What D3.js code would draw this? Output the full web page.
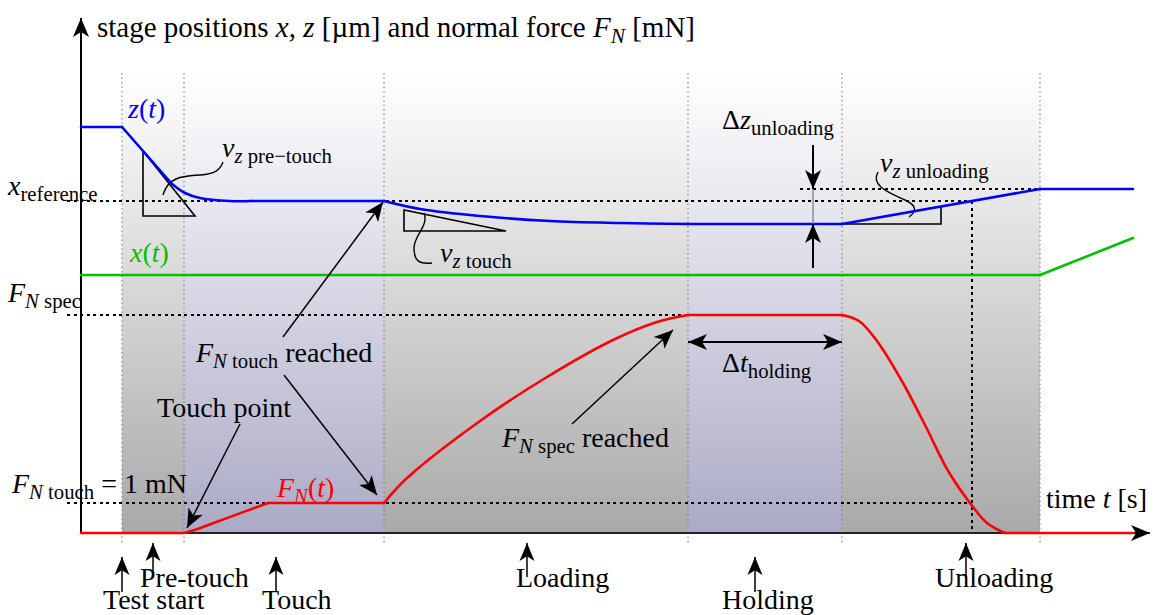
<!DOCTYPE html>
<html>
<head>
<meta charset="utf-8">
<script src="https://cdn.jsdelivr.net/npm/d3@7"></script>
<style>
  body { margin: 0; background: #fff; }
  svg { display: block; font-family: "Liberation Serif", "DejaVu Serif", serif; }
</style>
</head>
<body>
<script>
// time axis runs 0..107 (arbitrary s), value axis 0..51.5 (arbitrary units)
var phaseBounds = [4.1, 10.3, 30.3, 60.7, 76.1, 95.9];
var phaseShade = ["gray", "blue", "gray", "blue", "gray"];

// phase marker labels under the time axis
var phaseLabels = ["Test start", "Pre-touch", "Touch", "Loading", "Holding", "Unloading"];
var phaseLabelT = [4.1, 7.2, 19.5, 44.6, 67.4, 88.5];
var phaseLabelLow = [true, false, true, false, true, false];

// curves, split in pieces: 2-point pieces are straight, longer ones smooth
var zPieces = [
  [[0, 40.6], [4.1, 40.6]],
  [[4.1, 40.6], [9.1, 34.9]],
  [[9.1, 34.9], [10.4, 34.0], [11.9, 33.5], [14.9, 33.2], [17.0, 33.2]],
  [[17.0, 33.2], [30.3, 33.2]],
  [[30.3, 33.2], [33.9, 32.4], [39.9, 31.7], [46.9, 31.2], [53.9, 31.0], [60.7, 30.9]],
  [[60.7, 30.9], [76.1, 30.9]],
  [[76.1, 30.9], [95.9, 34.4]],
  [[95.9, 34.4], [105.2, 34.4]]
];
var xPieces = [
  [[0, 25.8], [95.9, 25.8]],
  [[95.9, 25.8], [105.2, 29.5]]
];
var fPieces = [
  [[0, 0], [10.3, 0]],
  [[10.3, 0], [11.5, 0.35], [13.0, 0.9], [18.7, 3.0]],
  [[18.7, 3.0], [30.3, 3.0]],
  [[30.3, 3.0], [32.5, 5.4], [39.9, 11.2], [46.6, 15.6], [53.2, 19.3], [57.6, 21.1], [60.7, 21.8]],
  [[60.7, 21.8], [76.1, 21.8]],
  [[76.1, 21.8], [77.8, 21.2], [79.6, 19.2], [82.2, 15.0], [84.5, 10.6], [86.6, 6.4], [88.6, 3.4], [90.6, 1.0], [92.4, 0]],
  [[92.4, 0], [105.2, 0]]
];

// reference levels
var xRef = 33.2, zUnload = 34.4, fSpec = 21.8, fTouch = 3.0, tCross = 89.1;

var W = 1154, H = 615;
var svg = d3.select("body").append("svg").attr("width", W).attr("height", H);

var tS = d3.scaleLinear().domain([0, 107]).range([81, 1151]);
var vS = d3.scaleLinear().domain([0, 51.5]).range([533, 18]);
var shadeTop = 75;

var defs = svg.append("defs");
function grad(id, bottom) {
  var g = defs.append("linearGradient").attr("id", id)
    .attr("gradientUnits", "userSpaceOnUse")
    .attr("x1", 0).attr("x2", 0).attr("y1", shadeTop).attr("y2", vS(0));
  g.append("stop").attr("offset", 0).attr("stop-color", "#ffffff");
  g.append("stop").attr("offset", 1).attr("stop-color", bottom);
}
grad("gGray", "#a9a9a9");
grad("gBlue", "#abaac6");

function marker(id, len, wid) {
  defs.append("marker").attr("id", id)
    .attr("markerUnits", "userSpaceOnUse")
    .attr("viewBox", (-len - 1) + " " + (-wid - 1) + " " + (len + 2) + " " + (2 * wid + 2))
    .attr("refX", 0).attr("refY", 0)
    .attr("markerWidth", len + 2).attr("markerHeight", 2 * wid + 2)
    .attr("orient", "auto")
    .append("path")
    .attr("d", "M0,0 L" + (-len) + "," + (-wid) + " L" + (-len * 0.74) + ",0 L" + (-len) + "," + wid + " Z")
    .attr("fill", "#000");
}
marker("arr", 19, 8);
marker("arrS", 18, 7.5);

// phase shading
for (var i = 0; i < phaseShade.length; i++) {
  svg.append("rect")
    .attr("x", tS(phaseBounds[i])).attr("y", shadeTop)
    .attr("width", tS(phaseBounds[i + 1]) - tS(phaseBounds[i]))
    .attr("height", vS(0) - shadeTop)
    .attr("fill", phaseShade[i] == "gray" ? "url(#gGray)" : "url(#gBlue)");
}
// phase boundary dotted lines
svg.selectAll(".pb").data(phaseBounds).enter().append("line")
  .attr("x1", function(d) { return tS(d); }).attr("x2", function(d) { return tS(d); })
  .attr("y1", shadeTop - 2).attr("y2", vS(0) + 11)
  .attr("stroke", "#777").attr("stroke-width", 1).attr("stroke-dasharray", "1.5,3");

// dashed reference lines
function dash(t1, v1, t2, v2) {
  svg.append("line")
    .attr("x1", tS(t1)).attr("y1", vS(v1)).attr("x2", tS(t2)).attr("y2", vS(v2))
    .attr("stroke", "#000").attr("stroke-width", 1.3).attr("stroke-dasharray", "3,3.5")
    .attr("shape-rendering", "crispEdges");
}
dash(-1.4, xRef, tCross, xRef);
dash(71.9, zUnload, 95.9, zUnload);
dash(-1.4, fSpec, 60.7, fSpec);
dash(-1.4, fTouch, tCross, fTouch);
dash(tCross, xRef, tCross, 0);

// slope triangles
var lineGen = d3.line().x(function(d) { return tS(d[0]); }).y(function(d) { return vS(d[1]); });
function poly(pts, closed) {
  svg.append("path").attr("d", lineGen(pts) + (closed ? "Z" : ""))
    .attr("fill", "none").attr("stroke", "#000").attr("stroke-width", 1.6);
}
poly([[6.2, 38.2], [6.2, 31.7], [11.4, 31.7]], true);
poly([[32.3, 32.3], [32.3, 30.2], [42.5, 30.2]], true);
poly([[76.1, 30.9], [86.0, 30.9], [86.0, 32.6]], false);

// squiggles
function squig(d) {
  svg.append("path").attr("d", d).attr("fill", "none").attr("stroke", "#000").attr("stroke-width", 1.4);
}
squig("M163,195 C168,178 180,176 200,175 C215,174 220,170 223,162");
squig("M424,213 C429,226 414,235 414,248 C414,262 420,264 432,263");
squig("M878,172 C870,186 890,193 905,200 C918,206 916,212 909,217");

// axes
svg.append("line").attr("x1", tS(0)).attr("y1", vS(0)).attr("x2", tS(0)).attr("y2", 18)
  .attr("stroke", "#000").attr("stroke-width", 2).attr("marker-end", "url(#arr)");
svg.append("line").attr("x1", tS(0)).attr("y1", vS(0)).attr("x2", tS(106.9)).attr("y2", vS(0))
  .attr("stroke", "#222").attr("stroke-width", 2).attr("marker-end", "url(#arr)");

// series
var smooth = d3.line().x(function(d) { return tS(d[0]); }).y(function(d) { return vS(d[1]); })
  .curve(d3.curveCatmullRom.alpha(0.5));
function series(pieces, color) {
  svg.append("g").selectAll("path").data(pieces).enter().append("path")
    .attr("d", function(d) { return smooth(d); })
    .attr("fill", "none").attr("stroke", color).attr("stroke-width", 2.6)
    .attr("stroke-linecap", "round").attr("stroke-linejoin", "round");
}
series(xPieces, "#00c000");
series(zPieces, "#0000ff");
series(fPieces, "#ff0000");

// arrows
function arrow(t1, v1, t2, v2, small, w) {
  svg.append("line")
    .attr("x1", tS(t1)).attr("y1", vS(v1)).attr("x2", tS(t2)).attr("y2", vS(v2))
    .attr("stroke", "#000").attr("stroke-width", w || 1.5)
    .attr("marker-end", small ? "url(#arrS)" : "url(#arr)");
}
arrow(20.2, 19.6, 30.2, 33.1);
arrow(20.3, 15.8, 29.6, 3.8);
arrow(15.9, 10.9, 10.6, 0.5);
arrow(49.1, 10.9, 59.2, 20.3);
arrow(68.4, 19.1, 60.7, 19.1, false, 1.8);
arrow(68.4, 19.1, 76.1, 19.1, false, 1.8);
arrow(73.2, 38.8, 73.2, 34.4, false, 2);
arrow(73.2, 26.5, 73.2, 30.9, false, 2);
svg.append("line").attr("x1", tS(73.2)).attr("x2", tS(73.2)).attr("y1", vS(34.4)).attr("y2", vS(30.9))
  .attr("stroke", "#777").attr("stroke-width", 1.2);

// phase labels with up arrows
phaseLabels.forEach(function(name, k) {
  var x = tS(phaseLabelT[k]);
  var low = phaseLabelLow[k];
  svg.append("line").attr("x1", x).attr("x2", x)
    .attr("y1", low ? 592 : 577).attr("y2", low ? 557 : 543)
    .attr("stroke", "#000").attr("stroke-width", 1.5).attr("marker-end", "url(#arrS)");
});
var labelX = [103, 140, 262, 516, 722, 935];
phaseLabels.forEach(function(name, k) {
  svg.append("text").attr("x", labelX[k]).attr("y", phaseLabelLow[k] ? 609 : 587)
    .attr("font-size", 28).text(name);
});

// rich text helper
function rich(x, y, parts, size, color) {
  var el = svg.append("text").attr("x", x).attr("y", y).attr("font-size", size).attr("fill", color || "#000");
  var shifted = 0;
  parts.forEach(function(p) {
    var ts = el.append("tspan").text(p.t);
    var want = p.sub ? Math.round(size * 0.22) : 0;
    ts.attr("dy", want - shifted);
    shifted = want;
    if (p.sub) ts.attr("font-size", size * 0.74);
    if (p.i) ts.attr("font-style", "italic");
  });
  return el;
}

rich(97, 37, [{t: "stage positions "}, {t: "x", i: true}, {t: ", "}, {t: "z", i: true},
  {t: " [µm] and normal force "}, {t: "F", i: true}, {t: "N", i: true, sub: true}, {t: " [mN]"}], 29);
rich(128, 118, [{t: "z", i: true}, {t: "("}, {t: "t", i: true}, {t: ")"}], 28, "#0000ff");
rich(130, 262, [{t: "x", i: true}, {t: "("}, {t: "t", i: true}, {t: ")"}], 28, "#00c000");
rich(8, 195, [{t: "x", i: true}, {t: "reference", sub: true}], 28);
rich(8, 302, [{t: "F", i: true}, {t: "N", i: true, sub: true}, {t: " spec", sub: true}], 28);
rich(222, 157, [{t: "v", i: true}, {t: "z", i: true, sub: true}, {t: " pre−touch", sub: true}], 28);
rich(440, 262, [{t: "v", i: true}, {t: "z", i: true, sub: true}, {t: " touch", sub: true}], 28);
rich(880, 172, [{t: "v", i: true}, {t: "z", i: true, sub: true}, {t: " unloading", sub: true}], 28);
rich(722, 129, [{t: "Δ"}, {t: "z", i: true}, {t: "unloading", sub: true}], 28);
rich(722, 372, [{t: "Δ"}, {t: "t", i: true}, {t: "holding", sub: true}], 28);
rich(196, 362, [{t: "F", i: true}, {t: "N", i: true, sub: true}, {t: " touch", sub: true}, {t: " reached"}], 28);
rich(157, 417, [{t: "Touch point"}], 28);
rich(12, 493, [{t: "F", i: true}, {t: "N", i: true, sub: true}, {t: " touch", sub: true}, {t: " = 1 mN"}], 28);
rich(277, 497, [{t: "F", i: true}, {t: "N", i: true, sub: true}, {t: "("}, {t: "t", i: true}, {t: ")"}], 28, "#ff0000");
rich(502, 447, [{t: "F", i: true}, {t: "N", i: true, sub: true}, {t: " spec", sub: true}, {t: " reached"}], 28);
rich(1046, 508, [{t: "time "}, {t: "t", i: true}, {t: " [s]"}], 28);
</script>
</body>
</html>
